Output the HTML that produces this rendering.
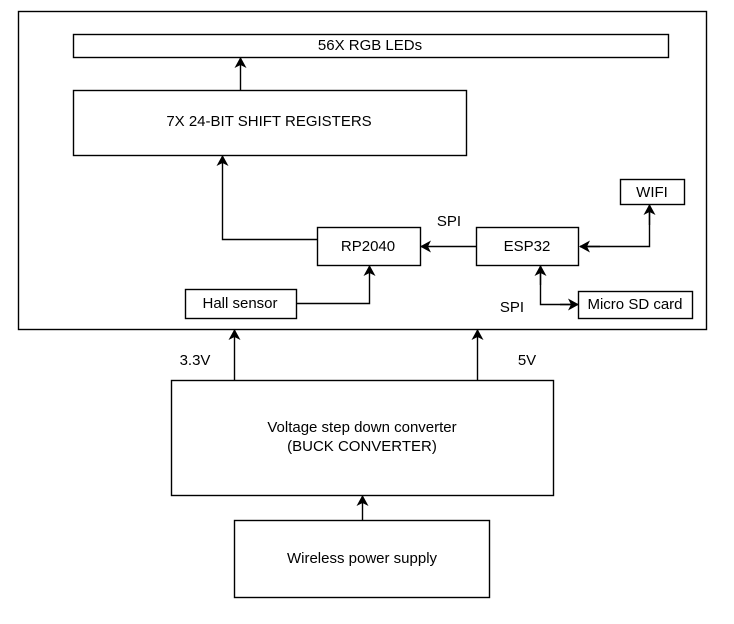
<!DOCTYPE html>
<html><head><style>body{margin:0;background:#fff}</style></head><body>
<svg width="734" height="619" xmlns="http://www.w3.org/2000/svg" font-family="Liberation Sans, sans-serif" font-size="15" text-anchor="middle">
<defs><marker id="a" markerWidth="12" markerHeight="12" refX="10" refY="6" orient="auto" markerUnits="userSpaceOnUse"><path d="M0,0 L11,6 L0,12 L3,6 Z" fill="#000"/></marker></defs>
<g fill="#fff" stroke="#000" stroke-width="1.4">
<rect x="18.5" y="11.5" width="688" height="318"/>
<rect x="73.5" y="34.5" width="595" height="23"/>
<rect x="73.5" y="90.5" width="393" height="65"/>
<rect x="317.5" y="227.5" width="103" height="38"/>
<rect x="476.5" y="227.5" width="102" height="38"/>
<rect x="620.5" y="179.5" width="64" height="25"/>
<rect x="578.5" y="291.5" width="114" height="27"/>
<rect x="185.5" y="289.5" width="111" height="29"/>
<rect x="171.5" y="380.5" width="382" height="115"/>
<rect x="234.5" y="520.5" width="255" height="77"/>
</g>
<g fill="none" stroke="#000" stroke-width="1.4">
<path d="M649.5,205 V246.5 H580"/>
<path d="M540.5,266 V304.5 H577"/>
</g>
<g fill="none" stroke="#000" stroke-width="1.4" marker-end="url(#a)">
<path d="M240.5,90 V58"/>
<path d="M317,239.5 H222.5 V156"/>
<path d="M296,303.5 H369.5 V266"/>
<path d="M476,246.5 H421"/>
<path d="M600,246.5 H580"/>
<path d="M649.5,225 V205"/>
<path d="M560,304.5 H578"/>
<path d="M540.5,285 V266"/>
<path d="M234.5,380 V330"/>
<path d="M477.5,380 V330"/>
<path d="M362.5,520 V496"/>
</g>
<g fill="#000">
<text x="370" y="50">56X RGB LEDs</text>
<text x="269" y="126">7X 24-BIT SHIFT REGISTERS</text>
<text x="368" y="251">RP2040</text>
<text x="527" y="251">ESP32</text>
<text x="652" y="197">WIFI</text>
<text x="635" y="309">Micro SD card</text>
<text x="240" y="308">Hall sensor</text>
<text x="449" y="226">SPI</text>
<text x="512" y="312">SPI</text>
<text x="195" y="365">3.3V</text>
<text x="527" y="365">5V</text>
<text x="362" y="432">Voltage step down converter</text>
<text x="362" y="451">(BUCK CONVERTER)</text>
<text x="362" y="563">Wireless power supply</text>
</g>
</svg>
</body></html>
